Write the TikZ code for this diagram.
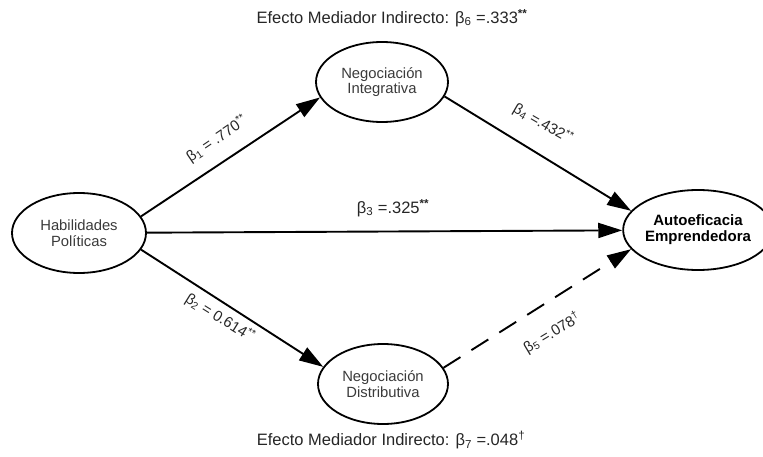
\documentclass[tikz,border=0pt]{standalone}
\usepackage{fontspec}
\setmainfont{Liberation Sans}
\usetikzlibrary{shapes.geometric,arrows.meta}
\definecolor{txtgray}{HTML}{3A3A3A}
\begin{document}
\begin{tikzpicture}[x=1pt,y=-1pt,
  var/.style={ellipse,draw=black,line width=1.8pt,inner sep=0pt,align=center,
    text=txtgray,font=\fontsize{14.8}{15.8}\selectfont},
  path/.style={line width=1.9pt,-{Triangle[length=24pt,width=15pt]}},
  lab/.style={font=\fontsize{15}{16}\selectfont,text=black!85,inner sep=0pt}]
\useasboundingbox (0,0) rectangle (763,457);
\node[var,minimum width=134pt,minimum height=80pt] (hp) at (79,233) {Habilidades\\Políticas};
\node[var,minimum width=132pt,minimum height=80pt] (ni) at (382,82) {Negociación\\Integrativa};
\node[var,minimum width=130pt,minimum height=80pt] (nd) at (383,384) {Negociación\\Distributiva};
\node[var,minimum width=124pt,minimum height=80pt,text=black,font=\fontsize{15}{16}\selectfont\bfseries] (ae) at (698,230) {Autoeficacia\\Emprendedora};
\draw[path] (hp.15) -- (ni.194);
\draw[path] (hp.-15) -- (nd.164);
\draw[path] (hp) -- (ae);
\draw[path] (ni.-13) -- (ae.164);
\draw[path,dash pattern=on 20pt off 13pt] (nd.15) -- (ae.196);
\node[lab,rotate=34] (l1) at (217,139) {β\textsubscript{1} = .770\textsuperscript{**}};
\node[lab,rotate=-32] (l2) at (220,318) {β\textsubscript{2} = 0.614\textsuperscript{**}};
\node[lab,font=\fontsize{16.5}{18}\selectfont] (l3) at (393,208) {β\textsubscript{3} =.325\textsuperscript{\textbf{**}}};
\node[lab,rotate=-30] (l4) at (543,124) {β\textsubscript{4} =.432\textsuperscript{**}};
\node[lab,rotate=31] (l5) at (552,333) {β\textsubscript{5} =.078\textsuperscript{†}};
\node[lab,font=\fontsize{16.5}{18}\selectfont] (t6) at (392,18) {Efecto Mediador Indirecto: β\textsubscript{6} =.333\textsuperscript{\textbf{**}}};
\node[lab,font=\fontsize{16.5}{18}\selectfont] (t7) at (391,440) {Efecto Mediador Indirecto: β\textsubscript{7} =.048\textsuperscript{†}};
\end{tikzpicture}
\end{document}
